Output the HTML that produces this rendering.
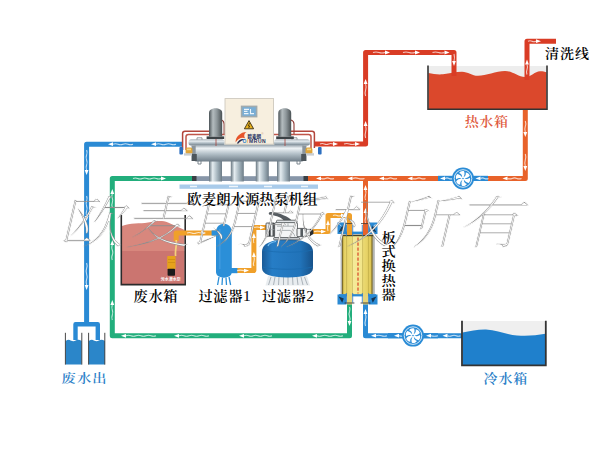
<!DOCTYPE html>
<html lang="zh-CN">
<head>
<meta charset="utf-8">
<title>欧麦朗水源热泵机组</title>
<style>
html,body{margin:0;padding:0;background:#fff;}
body{width:600px;height:450px;overflow:hidden;}
svg{display:block;}
.serif{font-family:"Liberation Serif","Noto Serif CJK SC",serif;}
.sans{font-family:"Liberation Sans","Noto Sans CJK SC",sans-serif;}
.lbl{font-size:14.5px;fill:#000;font-weight:600;}
</style>
</head>
<body>
<svg width="600" height="450" viewBox="0 0 600 450">
<defs>
  <linearGradient id="silverV" x1="0" y1="0" x2="0" y2="1">
    <stop offset="0" stop-color="#8996a0"/>
    <stop offset="0.22" stop-color="#eef3f6"/>
    <stop offset="0.55" stop-color="#b3c0c8"/>
    <stop offset="1" stop-color="#6f7d88"/>
  </linearGradient>
  <linearGradient id="silverH" x1="0" y1="0" x2="1" y2="0">
    <stop offset="0" stop-color="#66757f"/>
    <stop offset="0.28" stop-color="#e4ecf0"/>
    <stop offset="0.65" stop-color="#a3b3bc"/>
    <stop offset="1" stop-color="#6c7b86"/>
  </linearGradient>
  <linearGradient id="darkH" x1="0" y1="0" x2="1" y2="0">
    <stop offset="0" stop-color="#4a5256"/>
    <stop offset="0.3" stop-color="#b4bcbf"/>
    <stop offset="0.6" stop-color="#8e979b"/>
    <stop offset="1" stop-color="#4a5154"/>
  </linearGradient>
  <linearGradient id="f2g" x1="0" y1="0" x2="1" y2="0">
    <stop offset="0" stop-color="#1a5a96"/>
    <stop offset="0.2" stop-color="#267dc6"/>
    <stop offset="0.75" stop-color="#2173b9"/>
    <stop offset="1" stop-color="#17528a"/>
  </linearGradient>
  <linearGradient id="yellowH" x1="0" y1="0" x2="1" y2="0">
    <stop offset="0" stop-color="#e2cc58"/>
    <stop offset="0.3" stop-color="#f5eb9c"/>
    <stop offset="0.7" stop-color="#f2e588"/>
    <stop offset="1" stop-color="#dcc452"/>
  </linearGradient>
  <!-- white flow arrow pointing right, centred on 0,0 -->
  <g id="arw">
    <path d="M-7,0 q1.5,-1.4 3,0 t3,0 t3,0" fill="none" stroke="#fff" stroke-width="0.9"/>
    <path d="M2,-1.9 L7,0 L2,1.9 Z" fill="#fff"/>
  </g>
  <!-- pump icon centred on 0,0 -->
  <g id="pump">
    <circle r="11" fill="#2b8cd6"/>
    <circle r="8.8" fill="none" stroke="#fff" stroke-width="0.8"/>
    <g fill="#fff">
      <path id="bl" d="M-0.9,-1.2 C-0.7,-2.9 -1.6,-4.5 -3.9,-5.4 C-3.0,-7.0 -0.9,-7.9 1.1,-7.2 C1.9,-5.2 1.6,-3.0 0.5,-1.3 Z"/>
      <use href="#bl" transform="rotate(60)"/>
      <use href="#bl" transform="rotate(120)"/>
      <use href="#bl" transform="rotate(180)"/>
      <use href="#bl" transform="rotate(240)"/>
      <use href="#bl" transform="rotate(300)"/>
      <circle r="1.8"/>
    </g>
    <circle r="0.8" fill="#2b8cd6"/>
  </g>
</defs>

<rect width="600" height="450" fill="#fff"/>

<!-- ============ PIPES ============ -->
<g fill="none" stroke-width="5" stroke-linejoin="round">
  <!-- blue: heat pump -> waste out -->
  <path d="M182,144.2 H86.6 V324" stroke="#2a8ad4"/>
  <path d="M75.5,340 V324.2 H97.8 V340" stroke="#2a8ad4" stroke-width="4.4"/>
  <!-- green loop -->
  <path d="M193,178.5 H112.3 V335.8 H349.5 V303" stroke="#22ae7c"/>
  <!-- red: heat pump -> hot tank -->
  <path d="M315,144 H365.6 V52.5 H454 V76" stroke="#d93c25"/>
  <!-- cleaning line -->
  <path d="M527,80 V41.2 H556" stroke="#d93c25"/>
  <!-- orange: hot tank -> pump -> heat pump / exchanger -->
  <path d="M525.3,109 V178.4 H307" stroke="#e8622a"/>
  <path d="M365.5,178 V226" stroke="#e8622a"/>
  <!-- blue cold: tank -> pump -> exchanger -->
  <path d="M462,335.7 H365.5 V303" stroke="#2a8ad4"/>
  <!-- yellow-orange: waste tank -> filter1 -> filter2 -> exchanger -->
  <path d="M231,270.6 H253.9 V227.5 H268" stroke="#f0a02a"/>
  <path d="M312,231.6 H328 V215.5 H349.5 V226" stroke="#f0a02a"/>
</g>
<!-- blue pump connectors -->
<rect x="438" y="175.8" width="50" height="5.2" fill="#2a8ad4"/>
<rect x="388" y="333.1" width="50" height="5.2" fill="#2a8ad4"/>

<!-- ============ HOT WATER TANK ============ -->
<g>
  <rect x="428.5" y="66" width="118" height="43" fill="#ededed"/>
  <path d="M428.5,73 C433,74 438,74.8 443,74.3 C450,73.5 455,71.7 462,71.7 C468,71.7 472,75.8 478,75.8 C486,75.8 496,71 505,71 C513,71 518,77 525,77 C531,77 535,71.2 540,71.2 C543,71.2 545,71.8 546.5,72.2 V109 H428.5 Z" fill="#db482c"/>
  <path d="M428,65.5 V109.2 H547 V65.5" fill="none" stroke="#333" stroke-width="1.6"/>
  <!-- pipe ends dipping into the tank -->
  <rect x="451.5" y="66" width="5" height="10" fill="#d93c25"/>
  <rect x="524.5" y="66" width="5" height="14" fill="#d93c25"/>
</g>

<!-- ============ COLD WATER TANK ============ -->
<g>
  <rect x="462.5" y="321" width="83" height="44" fill="#efefef"/>
  <path d="M462.5,332.5 C470,331 478,329.3 486,329.5 C497,330 506,334.5 517,335.5 C527,336.3 536,335.5 545.5,333.8 V365 H462.5 Z" fill="#1f80cc"/>
  <path d="M462,320.8 V365.3 H545.8 V320.8" fill="none" stroke="#333" stroke-width="1.8"/>
</g>

<!-- ============ WASTE OUT BUCKETS ============ -->
<g>
  <path d="M65.6,341 q3,-2 5,-0.5 q3,1.5 5,0 q3,-1.5 6,0.5 V364.5 H65.6 Z" fill="#2b86c9"/>
  <path d="M88.8,341 q3,-2 5,-0.5 q3,1.5 5,0 q3,-1.5 6,0.5 V364.5 H88.8 Z" fill="#2b86c9"/>
  <path d="M65.4,332.8 V364.6 M81.8,332.8 V364.6 M88.6,332.8 V364.6 M104.8,332.8 V364.6" stroke="#333" stroke-width="0.9" fill="none"/>
</g>

<!-- ============ WASTE WATER TANK ============ -->
<g>
  <path d="M122,226 C130,222.5 140,224 148,222.5 C156,221 162,220 168,222.5 C174,225 180,228 184.5,230 V284 H122 Z" fill="#d8877d"/>
  <rect x="122" y="251" width="62.5" height="33" fill="#cb7570"/>
  <path d="M121.3,215 V284.6 H185.2 V215" fill="none" stroke="#2b2b2b" stroke-width="1.6"/>
  <!-- submersible pump -->
  <path d="M176.2,241 V233 H217" fill="none" stroke="#f0a02a" stroke-width="5" stroke-linejoin="round"/>
  <path d="M176.2,240 C177,246 174.8,250 175.6,256" fill="none" stroke="#f4d27c" stroke-width="1.7"/>
  <rect x="167.2" y="256" width="8.4" height="13" rx="0.8" fill="#e6a21c"/>
  <path d="M168,259.5 H175 M168,262.5 H175" stroke="#c98a12" stroke-width="0.7"/>
  <rect x="167.6" y="268.8" width="7.4" height="7" rx="0.8" fill="#1a1a1a"/>
  <text x="170.8" y="280.6" text-anchor="middle" class="sans" font-size="4" font-weight="700" fill="#fff">污水潜水泵</text>
</g>

<!-- ============ FILTER 1 ============ -->
<g>
  <path d="M219,277 L217.6,285 M222.5,277.5 L222,285 M226,277.5 L226.5,285 M229,277 L230.6,285" stroke="#2b8fd8" stroke-width="1.3" fill="none"/>
  <path d="M216,232 C216,221 231.8,221 231.8,232 V272 C231.8,279.5 216,279.5 216,272 Z" fill="#2b8fd8"/>
  <rect x="211.6" y="230.4" width="6" height="5.2" fill="#2b8fd8"/>
  <rect x="230" y="268" width="7.4" height="5.2" fill="#2b8fd8"/>
  <rect x="219" y="229" width="1.6" height="40" fill="#4fa6e6" opacity="0.5"/>
</g>

<!-- ============ FILTER 2 ============ -->
<g>
  <!-- base fins -->
  <path d="M268,276 L265.5,285.5 H310 L307,276 Z" fill="#e9edf0"/>
  <path d="M271,277 L268.5,285 M275,277 L273.5,285 M279,277 L278.5,285 M283.5,277 V285 M288,277 V285 M292.5,277 L293,285 M297,277 L298,285 M301,277 L303,285 M304.5,277 L307.5,285" stroke="#9aa3ab" stroke-width="0.8" fill="none"/>
  <!-- tank -->
  <path d="M262,252 C262,243 272,239.5 287.5,239.5 C303,239.5 313,243 313,252 V268 C313,274 305,277.5 287.5,277.5 C270,277.5 262,274 262,268 Z" fill="url(#f2g)"/>
  <path d="M262.3,250 C275,253 300,253 312.7,250" stroke="#1a6cb0" stroke-width="0.8" fill="none"/>
  <path d="M262.3,267 C275,270 300,270 312.7,267" stroke="#1a6cb0" stroke-width="0.8" fill="none"/>
  <path d="M268,246 C269,243 272,242 276,241.5" stroke="#7cc0f0" stroke-width="1.2" fill="none"/>
  <!-- valve -->
  <path d="M269.6,212.2 C273,211.4 279,213.2 284,215.4 C287.5,216.8 290,218 291.6,220.6 L284,220.8 C282,218 277,215.6 270,214.8 C268.4,214.6 268.4,212.6 269.6,212.2 Z" fill="#565c61"/>
  <rect x="276.5" y="220.2" width="20.5" height="3" rx="1" fill="#dfe3e6" stroke="#3c4043" stroke-width="0.7"/>
  <rect x="274.5" y="222.6" width="23" height="15.4" rx="1.5" fill="#f4f5f6" stroke="#4a4f53" stroke-width="0.8"/>
  <rect x="266" y="223" width="8.6" height="13.2" rx="0.8" fill="#eceef0" stroke="#3c4043" stroke-width="0.8"/>
  <rect x="268.8" y="223" width="1.8" height="13.2" fill="#2e3235"/>
  <rect x="272.6" y="223" width="1.2" height="13.2" fill="#2e3235"/>
  <path d="M266.4,229.6 H274.4" stroke="#9aa0a5" stroke-width="0.6"/>
  <rect x="297" y="228.4" width="9.6" height="8.2" rx="0.8" fill="#f0f2f3" stroke="#3c4043" stroke-width="0.8"/>
  <rect x="300.4" y="228.4" width="2.6" height="8.2" fill="#555b60"/>
  <rect x="306.4" y="229.2" width="3.8" height="6.6" fill="#f4f5f6" stroke="#4a4f53" stroke-width="0.6"/>
  <path d="M310,228.8 L313.4,230.4 V234 L310,236 Z" fill="#2a2d30"/>
  <path d="M277,226.2 H294 M277,230.4 H290 M283,223.4 V226 M288,223.4 V226" stroke="#8e959a" stroke-width="0.7" fill="none"/>
  <path d="M290,230.4 C292,231.4 294,233.4 295,236.6" stroke="#8e959a" stroke-width="0.7" fill="none"/>
  <rect x="273.6" y="237.6" width="26" height="2.2" rx="0.8" fill="#cfd4d8" stroke="#3c4043" stroke-width="0.7"/>
</g>

<!-- ============ PLATE HEAT EXCHANGER ============ -->
<g>
  <!-- body -->
  <rect x="340.6" y="235" width="34.2" height="59.5" fill="#b4b6b4"/>
  <rect x="342" y="235" width="30.6" height="59.5" fill="#7d6c2a"/>
  <rect x="343.2" y="235" width="28.2" height="59.5" fill="url(#yellowH)"/>
  <rect x="347.2" y="236" width="4.6" height="58" fill="#e6cf5e" opacity="0.55"/>
  <rect x="363.2" y="236" width="4.6" height="58" fill="#e6cf5e" opacity="0.55"/>
  <path d="M346.6,236 V294 M352.4,236 V294 M362.6,236 V294 M368.4,236 V294" stroke="#a8902e" stroke-width="0.7" opacity="0.65" fill="none"/>
  <rect x="341" y="234.6" width="33.5" height="1.6" fill="#4b4424"/>
  <path d="M358,237.5 V293.5" stroke="#d6331f" stroke-width="1.1" stroke-dasharray="3.2 1.8" fill="none"/>
  <!-- top flange -->
  <rect x="337.5" y="222.5" width="9" height="11.5" fill="#2a8ad4"/>
  <rect x="368.5" y="222.5" width="9" height="11.5" fill="#2a8ad4"/>
  <rect x="339" y="231.6" width="37" height="2.4" fill="#2a8ad4"/>
  <rect x="347" y="222" width="5" height="13" fill="#f0a02a"/>
  <rect x="363" y="222" width="5" height="13" fill="#e8622a"/>
  <path d="M346.3,225 V236 M352.7,225 V236 M362.3,225 V236 M368.7,225 V236" stroke="#3b7fc0" stroke-width="0.9"/>
  <path d="M338.6,232.4 l3.6,-7 l1.6,4.4 Z M376.4,232.4 l-3.6,-7 l-1.6,4.4 Z" fill="#17344f"/>
  <path d="M339.5,224.5 l2,1.6 M375.5,224.5 l-2,1.6" stroke="#cfe6f7" stroke-width="0.9"/>
  <path d="M345,223.6 H354 M361,223.6 H370" stroke="#333" stroke-width="0.8"/>
  <!-- bottom flange -->
  <rect x="337.5" y="294.5" width="9" height="10" fill="#2a8ad4"/>
  <rect x="368.5" y="294.5" width="9" height="10" fill="#2a8ad4"/>
  <rect x="339" y="294.2" width="37" height="2.2" fill="#2a8ad4"/>
  <rect x="347" y="294" width="5" height="10.5" fill="#e6d47a"/>
  <rect x="363" y="294" width="5" height="10.5" fill="#e6d47a"/>
  <path d="M346.3,293 V302.6 M352.7,293 V302.6 M362.3,293 V302.6 M368.7,293 V302.6" stroke="#3b7fc0" stroke-width="0.9"/>
  <path d="M338.6,296.4 l3.6,6.4 l1.6,-4.2 Z M376.4,296.4 l-3.6,6.4 l-1.6,-4.2 Z" fill="#17344f"/>
  <path d="M344.6,303 H354.4 M360.6,303 H370.4" stroke="#333" stroke-width="0.9"/>
</g>

<!-- ============ WATER-SOURCE HEAT PUMP UNIT ============ -->
<g>
  <!-- lower light-blue skid -->
  <rect x="179.5" y="184.5" width="138.5" height="4.3" fill="#a9cbea"/>
  <path d="M190,186.6 H197 M229,186.6 H238 M264,186.6 H272 M301,186.6 H308" stroke="#eef5fb" stroke-width="1.5"/>
  <!-- upper dark skid -->
  <rect x="196" y="176.2" width="108" height="4.8" fill="#8796a8"/>
  <rect x="192" y="176" width="4.5" height="5" fill="#3a3f44"/>
  <rect x="303.5" y="176" width="4.5" height="5" fill="#3a3f44"/>
  <!-- four vertical shells -->
  <rect x="209" y="158" width="13" height="23.5" fill="url(#silverH)"/>
  <rect x="230.8" y="158" width="13" height="23.5" fill="url(#silverH)"/>
  <rect x="255.8" y="158" width="13" height="23.5" fill="url(#silverH)"/>
  <rect x="277" y="158" width="13" height="23.5" fill="url(#silverH)"/>
  <!-- copper pipes left -->
  <path d="M212,131.2 H185 Q182.6,131.2 182.6,133.6 V150" fill="none" stroke="#b3463c" stroke-width="1.5"/>
  <path d="M226,134.4 H188.4 Q186,134.4 186,136.8 V150" fill="none" stroke="#c0564a" stroke-width="1.5"/>
  <!-- copper pipes right -->
  <path d="M288,131.2 H312 Q314.4,131.2 314.4,133.6 V148" fill="none" stroke="#b3463c" stroke-width="1.5"/>
  <path d="M274,134.4 H308.6 Q311,134.4 311,136.8 V148" fill="none" stroke="#c0564a" stroke-width="1.5"/>
  <path d="M291,120 q3,1 3,4 V134" fill="none" stroke="#8f3a34" stroke-width="1.1"/>
  <path d="M221.5,120 q2.6,1 2.6,4 V134" fill="none" stroke="#8f3a34" stroke-width="1.1"/>
  <!-- upper small shells -->
  <rect x="188.5" y="139.6" width="36" height="6" rx="2.5" fill="url(#silverV)"/>
  <rect x="274" y="139.6" width="36" height="6" rx="2.5" fill="url(#silverV)"/>
  <path d="M197,139.6 v-1.8 h5 v1.8 M292,139.6 v-1.8 h5 v1.8" fill="none" stroke="#7c858c" stroke-width="0.8"/>
  <!-- main horizontal shell -->
  <rect x="194" y="144.5" width="110" height="17" rx="2" fill="url(#silverV)"/>
  <rect x="191.5" y="145.5" width="4.2" height="15.5" fill="#8b959d"/><rect x="191.8" y="154" width="5" height="7" fill="#4c555b"/>
  <rect x="302.3" y="145.5" width="4.2" height="15.5" fill="#8b959d"/><rect x="301.2" y="154" width="5" height="7" fill="#4c555b"/>
  <path d="M198,161 v3 h3 v-3 M297,161 v3 h3 v-3" fill="none" stroke="#6f7a83" stroke-width="0.9"/>
  <!-- end fittings -->
  <rect x="185.6" y="147.4" width="6.8" height="6.8" rx="2" fill="#dfa53a"/><rect x="187" y="148.6" width="4" height="1.6" fill="#f3d489"/>
  <rect x="305.6" y="147.4" width="6.8" height="6.8" rx="2" fill="#dfa53a"/><rect x="307" y="148.6" width="4" height="1.6" fill="#f3d489"/>
  <rect x="184" y="153.2" width="8" height="2.4" fill="#c9ced2"/>
  <rect x="306" y="153.2" width="8" height="2.4" fill="#c9ced2"/>
  <rect x="179.4" y="147" width="3.6" height="7.4" rx="1" fill="#2c6fc0"/>
  <rect x="318" y="147" width="3.6" height="7.4" rx="1" fill="#2c6fc0"/>
  <!-- compressors -->
  <rect x="206.6" y="136.4" width="17.6" height="2.6" fill="#3c4246"/>
  <rect x="276.2" y="136.4" width="17.6" height="2.6" fill="#3c4246"/>
  <path d="M209,113 C209,106.8 222.2,106.8 222.2,113 V136.6 H209 Z" fill="url(#darkH)"/>
  <path d="M278.3,113 C278.3,106.8 291.2,106.8 291.2,113 V136.6 H278.3 Z" fill="url(#darkH)"/>
  <path d="M216,139 V146 M285,139 V146" stroke="#a8453c" stroke-width="0.8"/>
  <!-- control box -->
  <rect x="225" y="98.6" width="48.6" height="45.6" fill="#f7efdf" stroke="#c9c4b8" stroke-width="0.8"/>
  <rect x="240.8" y="105.6" width="16.6" height="11.8" fill="#a0aaad"/>
  <rect x="242.4" y="107.2" width="13.4" height="8.6" fill="#79aed6"/>
  <path d="M244,109.4 H249 M244,111.4 H247.5 M250.5,109 V113.6 H254 M244,113.6 H248.5" stroke="#eef5fa" stroke-width="1.1" fill="none"/>
  <path d="M249,120.6 L253.6,128.8 H244.4 Z" fill="#e9b21e" stroke="#3a2c10" stroke-width="0.9" stroke-linejoin="round"/>
  <path d="M249.6,123 L248.2,126 H249.8 L248.6,128" stroke="#2a1e08" stroke-width="0.7" fill="none"/>
  <!-- logo -->
  <path d="M235.6,142.6 C235.2,137 240.5,132 246.6,132 C244,133.4 243.6,136.4 245.4,138.6 C242.4,136.6 238,138.4 235.6,142.6 Z" fill="#e6542a"/>
  <path d="M236.8,143.4 C239,139.4 242.6,138 245.6,139.8 C242.8,139.8 240,141.2 238.4,143.6 Z" fill="#2a2f52"/>
  <text x="247.4" y="138.2" class="sans" font-size="4.6" font-weight="700" fill="#23305e">欧麦朗</text>
  <text x="261.6" y="134.6" class="sans" font-size="2.6" fill="#c9876a">®</text>
  <text x="242.6" y="143.4" class="sans" font-size="5" font-weight="700" fill="#23305e" letter-spacing="0.55"><tspan fill="#2d7fc8">O</tspan><tspan fill="#f08a2a">/</tspan>MRUN</text>
</g>

<!-- ============ FLOW ARROWS ============ -->
<g>
<g transform="translate(108.0,144.2) rotate(180)"><g transform="translate(-5,0)"><path d="M-20.0,0 q2.50,-1.0 5.00,0 t5.00,0 t5.00,0 t5.00,0" fill="none" stroke="#fff" stroke-width="1.1" stroke-opacity="0.72"/></g><path d="M-5,-1.9 L0,0 L-5,1.9 Z" fill="#fff"/></g>
<g transform="translate(151.0,144.2) rotate(180)"><g transform="translate(-5,0)"><path d="M-20.0,0 q2.50,-1.0 5.00,0 t5.00,0 t5.00,0 t5.00,0" fill="none" stroke="#fff" stroke-width="1.1" stroke-opacity="0.72"/></g><path d="M-5,-1.9 L0,0 L-5,1.9 Z" fill="#fff"/></g>
<g transform="translate(86.6,175.0) rotate(90)"><g transform="translate(-5,0)"><path d="M-20.0,0 q2.50,-1.0 5.00,0 t5.00,0 t5.00,0 t5.00,0" fill="none" stroke="#fff" stroke-width="1.1" stroke-opacity="0.72"/></g><path d="M-5,-1.9 L0,0 L-5,1.9 Z" fill="#fff"/></g>
<g transform="translate(86.6,221.0) rotate(90)"><g transform="translate(-5,0)"><path d="M-20.0,0 q2.50,-1.0 5.00,0 t5.00,0 t5.00,0 t5.00,0" fill="none" stroke="#fff" stroke-width="1.1" stroke-opacity="0.72"/></g><path d="M-5,-1.9 L0,0 L-5,1.9 Z" fill="#fff"/></g>
<g transform="translate(86.6,290.0) rotate(90)"><g transform="translate(-5,0)"><path d="M-22.0,0 q2.75,-1.0 5.50,0 t5.50,0 t5.50,0 t5.50,0" fill="none" stroke="#fff" stroke-width="1.1" stroke-opacity="0.72"/></g><path d="M-5,-1.9 L0,0 L-5,1.9 Z" fill="#fff"/></g>
<g transform="translate(166.0,178.5) rotate(0)"><g transform="translate(-5,0)"><path d="M-28.0,0 q2.33,-1.0 4.67,0 t4.67,0 t4.67,0 t4.67,0 t4.67,0 t4.67,0" fill="none" stroke="#fff" stroke-width="1.1" stroke-opacity="0.72"/></g><path d="M-5,-1.9 L0,0 L-5,1.9 Z" fill="#fff"/></g>
<g transform="translate(112.3,189.0) rotate(270)"><g transform="translate(-5,0)"><path d="M-13.0,0 q2.17,-1.0 4.33,0 t4.33,0 t4.33,0" fill="none" stroke="#fff" stroke-width="1.1" stroke-opacity="0.72"/></g><path d="M-5,-1.9 L0,0 L-5,1.9 Z" fill="#fff"/></g>
<g transform="translate(112.3,240.0) rotate(270)"><g transform="translate(-5,0)"><path d="M-15.0,0 q2.50,-1.0 5.00,0 t5.00,0 t5.00,0" fill="none" stroke="#fff" stroke-width="1.1" stroke-opacity="0.72"/></g><path d="M-5,-1.9 L0,0 L-5,1.9 Z" fill="#fff"/></g>
<g transform="translate(112.3,300.0) rotate(270)"><g transform="translate(-5,0)"><path d="M-15.0,0 q2.50,-1.0 5.00,0 t5.00,0 t5.00,0" fill="none" stroke="#fff" stroke-width="1.1" stroke-opacity="0.72"/></g><path d="M-5,-1.9 L0,0 L-5,1.9 Z" fill="#fff"/></g>
<g transform="translate(121.0,335.8) rotate(180)"><g transform="translate(-5,0)"><path d="M-30.0,0 q2.50,-1.0 5.00,0 t5.00,0 t5.00,0 t5.00,0 t5.00,0 t5.00,0" fill="none" stroke="#fff" stroke-width="1.1" stroke-opacity="0.72"/></g><path d="M-5,-1.9 L0,0 L-5,1.9 Z" fill="#fff"/></g>
<g transform="translate(174.0,335.8) rotate(180)"><g transform="translate(-5,0)"><path d="M-30.0,0 q2.50,-1.0 5.00,0 t5.00,0 t5.00,0 t5.00,0 t5.00,0 t5.00,0" fill="none" stroke="#fff" stroke-width="1.1" stroke-opacity="0.72"/></g><path d="M-5,-1.9 L0,0 L-5,1.9 Z" fill="#fff"/></g>
<g transform="translate(239.0,335.8) rotate(180)"><g transform="translate(-5,0)"><path d="M-28.0,0 q2.33,-1.0 4.67,0 t4.67,0 t4.67,0 t4.67,0 t4.67,0 t4.67,0" fill="none" stroke="#fff" stroke-width="1.1" stroke-opacity="0.72"/></g><path d="M-5,-1.9 L0,0 L-5,1.9 Z" fill="#fff"/></g>
<g transform="translate(312.0,335.8) rotate(180)"><g transform="translate(-5,0)"><path d="M-26.0,0 q2.60,-1.0 5.20,0 t5.20,0 t5.20,0 t5.20,0 t5.20,0" fill="none" stroke="#fff" stroke-width="1.1" stroke-opacity="0.72"/></g><path d="M-5,-1.9 L0,0 L-5,1.9 Z" fill="#fff"/></g>
<g transform="translate(349.5,326.0) rotate(90)"><g transform="translate(-5,0)"><path d="M-14.0,0 q2.33,-1.0 4.67,0 t4.67,0 t4.67,0" fill="none" stroke="#fff" stroke-width="1.1" stroke-opacity="0.72"/></g><path d="M-5,-1.9 L0,0 L-5,1.9 Z" fill="#fff"/></g>
<g transform="translate(338.0,144.0) rotate(0)"><g transform="translate(-5,0)"><path d="M-13.0,0 q2.17,-1.0 4.33,0 t4.33,0 t4.33,0" fill="none" stroke="#fff" stroke-width="1.1" stroke-opacity="0.72"/></g><path d="M-5,-1.9 L0,0 L-5,1.9 Z" fill="#fff"/></g>
<g transform="translate(360.0,144.0) rotate(0)"><g transform="translate(-5,0)"><path d="M-11.0,0 q2.75,-1.0 5.50,0 t5.50,0" fill="none" stroke="#fff" stroke-width="1.1" stroke-opacity="0.72"/></g><path d="M-5,-1.9 L0,0 L-5,1.9 Z" fill="#fff"/></g>
<g transform="translate(365.6,121.0) rotate(270)"><g transform="translate(-5,0)"><path d="M-12.0,0 q3.00,-1.0 6.00,0 t6.00,0" fill="none" stroke="#fff" stroke-width="1.1" stroke-opacity="0.72"/></g><path d="M-5,-1.9 L0,0 L-5,1.9 Z" fill="#fff"/></g>
<g transform="translate(365.6,79.0) rotate(270)"><g transform="translate(-5,0)"><path d="M-12.0,0 q3.00,-1.0 6.00,0 t6.00,0" fill="none" stroke="#fff" stroke-width="1.1" stroke-opacity="0.72"/></g><path d="M-5,-1.9 L0,0 L-5,1.9 Z" fill="#fff"/></g>
<g transform="translate(390.0,52.5) rotate(0)"><g transform="translate(-5,0)"><path d="M-12.0,0 q3.00,-1.0 6.00,0 t6.00,0" fill="none" stroke="#fff" stroke-width="1.1" stroke-opacity="0.72"/></g><path d="M-5,-1.9 L0,0 L-5,1.9 Z" fill="#fff"/></g>
<g transform="translate(420.0,52.5) rotate(0)"><g transform="translate(-5,0)"><path d="M-12.0,0 q3.00,-1.0 6.00,0 t6.00,0" fill="none" stroke="#fff" stroke-width="1.1" stroke-opacity="0.72"/></g><path d="M-5,-1.9 L0,0 L-5,1.9 Z" fill="#fff"/></g>
<g transform="translate(449.5,52.5) rotate(0)"><g transform="translate(-5,0)"><path d="M-12.0,0 q3.00,-1.0 6.00,0 t6.00,0" fill="none" stroke="#fff" stroke-width="1.1" stroke-opacity="0.72"/></g><path d="M-5,-1.9 L0,0 L-5,1.9 Z" fill="#fff"/></g>
<g transform="translate(454.0,66.0) rotate(90)"><g transform="translate(-5,0)"><path d="M-7.0,0 q3.50,-1.0 7.00,0" fill="none" stroke="#fff" stroke-width="1.1" stroke-opacity="0.72"/></g><path d="M-5,-1.9 L0,0 L-5,1.9 Z" fill="#fff"/></g>
<g transform="translate(527.0,59.5) rotate(270)"><g transform="translate(-5,0)"><path d="M-10.0,0 q2.50,-1.0 5.00,0 t5.00,0" fill="none" stroke="#fff" stroke-width="1.1" stroke-opacity="0.72"/></g><path d="M-5,-1.9 L0,0 L-5,1.9 Z" fill="#fff"/></g>
<g transform="translate(541.0,41.2) rotate(0)"><g transform="translate(-5,0)"><path d="M-8.0,0 q2.00,-1.0 4.00,0 t4.00,0" fill="none" stroke="#fff" stroke-width="1.1" stroke-opacity="0.72"/></g><path d="M-5,-1.9 L0,0 L-5,1.9 Z" fill="#fff"/></g>
<g transform="translate(525.3,137.0) rotate(90)"><g transform="translate(-5,0)"><path d="M-11.0,0 q2.75,-1.0 5.50,0 t5.50,0" fill="none" stroke="#fff" stroke-width="1.1" stroke-opacity="0.72"/></g><path d="M-5,-1.9 L0,0 L-5,1.9 Z" fill="#fff"/></g>
<g transform="translate(525.3,171.0) rotate(90)"><g transform="translate(-5,0)"><path d="M-12.0,0 q3.00,-1.0 6.00,0 t6.00,0" fill="none" stroke="#fff" stroke-width="1.1" stroke-opacity="0.72"/></g><path d="M-5,-1.9 L0,0 L-5,1.9 Z" fill="#fff"/></g>
<g transform="translate(502.5,178.4) rotate(180)"><g transform="translate(-5,0)"><path d="M-14.0,0 q2.33,-1.0 4.67,0 t4.67,0 t4.67,0" fill="none" stroke="#fff" stroke-width="1.1" stroke-opacity="0.72"/></g><path d="M-5,-1.9 L0,0 L-5,1.9 Z" fill="#fff"/></g>
<g transform="translate(475.5,178.4) rotate(180)"><g transform="translate(-5,0)"><path d="M-8.0,0 q2.00,-1.0 4.00,0 t4.00,0" fill="none" stroke="#fff" stroke-width="1.1" stroke-opacity="0.72"/></g><path d="M-5,-1.9 L0,0 L-5,1.9 Z" fill="#fff"/></g>
<g transform="translate(440.0,178.4) rotate(180)"><g transform="translate(-5,0)"><path d="M-8.0,0 q2.00,-1.0 4.00,0 t4.00,0" fill="none" stroke="#fff" stroke-width="1.1" stroke-opacity="0.72"/></g><path d="M-5,-1.9 L0,0 L-5,1.9 Z" fill="#fff"/></g>
<g transform="translate(407.5,178.4) rotate(180)"><g transform="translate(-5,0)"><path d="M-13.0,0 q2.17,-1.0 4.33,0 t4.33,0 t4.33,0" fill="none" stroke="#fff" stroke-width="1.1" stroke-opacity="0.72"/></g><path d="M-5,-1.9 L0,0 L-5,1.9 Z" fill="#fff"/></g>
<g transform="translate(379.0,178.4) rotate(180)"><g transform="translate(-5,0)"><path d="M-13.0,0 q2.17,-1.0 4.33,0 t4.33,0 t4.33,0" fill="none" stroke="#fff" stroke-width="1.1" stroke-opacity="0.72"/></g><path d="M-5,-1.9 L0,0 L-5,1.9 Z" fill="#fff"/></g>
<g transform="translate(347.5,178.4) rotate(180)"><g transform="translate(-5,0)"><path d="M-12.0,0 q3.00,-1.0 6.00,0 t6.00,0" fill="none" stroke="#fff" stroke-width="1.1" stroke-opacity="0.72"/></g><path d="M-5,-1.9 L0,0 L-5,1.9 Z" fill="#fff"/></g>
<g transform="translate(316.0,178.4) rotate(180)"><g transform="translate(-5,0)"><path d="M-13.0,0 q2.17,-1.0 4.33,0 t4.33,0 t4.33,0" fill="none" stroke="#fff" stroke-width="1.1" stroke-opacity="0.72"/></g><path d="M-5,-1.9 L0,0 L-5,1.9 Z" fill="#fff"/></g>
<g transform="translate(365.5,185.0) rotate(270)"><g transform="translate(-5,0)"><path d="M-10.0,0 q2.50,-1.0 5.00,0 t5.00,0" fill="none" stroke="#fff" stroke-width="1.1" stroke-opacity="0.72"/></g><path d="M-5,-1.9 L0,0 L-5,1.9 Z" fill="#fff"/></g>
<g transform="translate(365.5,208.0) rotate(270)"><g transform="translate(-5,0)"><path d="M-10.0,0 q2.50,-1.0 5.00,0 t5.00,0" fill="none" stroke="#fff" stroke-width="1.1" stroke-opacity="0.72"/></g><path d="M-5,-1.9 L0,0 L-5,1.9 Z" fill="#fff"/></g>
<g transform="translate(442.5,335.7) rotate(180)"><g transform="translate(-5,0)"><path d="M-13.0,0 q2.17,-1.0 4.33,0 t4.33,0 t4.33,0" fill="none" stroke="#fff" stroke-width="1.1" stroke-opacity="0.72"/></g><path d="M-5,-1.9 L0,0 L-5,1.9 Z" fill="#fff"/></g>
<g transform="translate(426.0,335.7) rotate(180)"><g transform="translate(-5,0)"><path d="M-7.0,0 q3.50,-1.0 7.00,0" fill="none" stroke="#fff" stroke-width="1.1" stroke-opacity="0.72"/></g><path d="M-5,-1.9 L0,0 L-5,1.9 Z" fill="#fff"/></g>
<g transform="translate(394.0,335.7) rotate(180)"><g transform="translate(-5,0)"><path d="M-7.0,0 q3.50,-1.0 7.00,0" fill="none" stroke="#fff" stroke-width="1.1" stroke-opacity="0.72"/></g><path d="M-5,-1.9 L0,0 L-5,1.9 Z" fill="#fff"/></g>
<g transform="translate(371.0,335.7) rotate(180)"><g transform="translate(-5,0)"><path d="M-11.0,0 q2.75,-1.0 5.50,0 t5.50,0" fill="none" stroke="#fff" stroke-width="1.1" stroke-opacity="0.72"/></g><path d="M-5,-1.9 L0,0 L-5,1.9 Z" fill="#fff"/></g>
<g transform="translate(365.5,309.0) rotate(270)"><g transform="translate(-5,0)"><path d="M-12.0,0 q3.00,-1.0 6.00,0 t6.00,0" fill="none" stroke="#fff" stroke-width="1.1" stroke-opacity="0.72"/></g><path d="M-5,-1.9 L0,0 L-5,1.9 Z" fill="#fff"/></g>
<g transform="translate(206.0,233.0) rotate(0)"><g transform="translate(-5,0)"><path d="M-14.0,0 q2.33,-1.0 4.67,0 t4.67,0 t4.67,0" fill="none" stroke="#fff" stroke-width="1.1" stroke-opacity="0.72"/></g><path d="M-5,-1.9 L0,0 L-5,1.9 Z" fill="#fff"/></g>
<g transform="translate(249.0,270.6) rotate(0)"><g transform="translate(-5,0)"><path d="M-7.0,0 q3.50,-1.0 7.00,0" fill="none" stroke="#fff" stroke-width="1.1" stroke-opacity="0.72"/></g><path d="M-5,-1.9 L0,0 L-5,1.9 Z" fill="#fff"/></g>
<g transform="translate(253.9,252.0) rotate(270)"><g transform="translate(-5,0)"><path d="M-9.0,0 q2.25,-1.0 4.50,0 t4.50,0" fill="none" stroke="#fff" stroke-width="1.1" stroke-opacity="0.72"/></g><path d="M-5,-1.9 L0,0 L-5,1.9 Z" fill="#fff"/></g>
<g transform="translate(253.9,233.0) rotate(270)"><g transform="translate(-5,0)"><path d="M-5.0,0 q2.50,-1.0 5.00,0" fill="none" stroke="#fff" stroke-width="1.1" stroke-opacity="0.72"/></g><path d="M-5,-1.9 L0,0 L-5,1.9 Z" fill="#fff"/></g>
<g transform="translate(265.0,227.5) rotate(0)"><g transform="translate(-5,0)"><path d="M-6.0,0 q3.00,-1.0 6.00,0" fill="none" stroke="#fff" stroke-width="1.1" stroke-opacity="0.72"/></g><path d="M-5,-1.9 L0,0 L-5,1.9 Z" fill="#fff"/></g>
<g transform="translate(326.0,231.6) rotate(0)"><g transform="translate(-5,0)"><path d="M-7.0,0 q3.50,-1.0 7.00,0" fill="none" stroke="#fff" stroke-width="1.1" stroke-opacity="0.72"/></g><path d="M-5,-1.9 L0,0 L-5,1.9 Z" fill="#fff"/></g>
<g transform="translate(328.0,220.0) rotate(270)"><g transform="translate(-5,0)"><path d="M-6.0,0 q3.00,-1.0 6.00,0" fill="none" stroke="#fff" stroke-width="1.1" stroke-opacity="0.72"/></g><path d="M-5,-1.9 L0,0 L-5,1.9 Z" fill="#fff"/></g>
<g transform="translate(346.0,215.5) rotate(0)"><g transform="translate(-5,0)"><path d="M-8.0,0 q2.00,-1.0 4.00,0 t4.00,0" fill="none" stroke="#fff" stroke-width="1.1" stroke-opacity="0.72"/></g><path d="M-5,-1.9 L0,0 L-5,1.9 Z" fill="#fff"/></g>
</g>

<!-- ============ PUMPS ============ -->
<use href="#pump" transform="translate(463,178.5)"/>
<use href="#pump" transform="translate(413,335.6)"/>

<!-- ============ WATERMARK ============ -->
<mask id="wmOut" maskUnits="userSpaceOnUse" x="40" y="170" width="540" height="100">
  <g transform="translate(0,243) skewX(-13)">
    <text x="58" y="0" class="serif" font-size="57" font-weight="200" fill="#fff" stroke="#000" stroke-width="0.9" textLength="465" lengthAdjust="spacingAndGlyphs">欧麦朗版权所有</text>
  </g>
</mask>
<mask id="wmIn" maskUnits="userSpaceOnUse" x="40" y="170" width="540" height="100">
  <g transform="translate(0,243) skewX(-13)">
    <text x="58" y="0" class="serif" font-size="57" font-weight="200" fill="#fff" stroke="#000" stroke-width="1.8" textLength="465" lengthAdjust="spacingAndGlyphs">欧麦朗版权所有</text>
  </g>
</mask>
<rect x="40" y="170" width="540" height="100" fill="#8e8e8e" mask="url(#wmOut)"/>
<rect x="40" y="170" width="540" height="100" fill="#fff" mask="url(#wmIn)"/>

<!-- ============ LABELS ============ -->
<g>
  <text transform="translate(486.35,125.70) scale(1.08,1)" x="0.31" y="0" text-anchor="middle" class="serif" font-size="13.0" font-weight="600" fill="#e05a40" letter-spacing="0.61">热水箱</text>
  <text transform="translate(567.00,57.80) scale(1.08,1)" x="0.44" y="0" text-anchor="middle" class="serif" font-size="13.0" font-weight="600" fill="#000" letter-spacing="0.89">清洗线</text>
  <text transform="translate(505.40,383.40) scale(1.08,1)" x="0.40" y="0" text-anchor="middle" class="serif" font-size="13.0" font-weight="600" fill="#2b80c8" letter-spacing="0.80">冷水箱</text>
  <text transform="translate(84.00,383.10) scale(1.15,1)" x="0.53" y="0" text-anchor="middle" class="serif" font-size="12.4" font-weight="600" fill="#2b80c8" letter-spacing="1.05">废水出</text>
  <text transform="translate(155.50,301.20) scale(1.06,1)" x="0.28" y="0" text-anchor="middle" class="serif" font-size="13.4" font-weight="600" fill="#000" letter-spacing="0.56">废水箱</text>
  <text transform="translate(224.60,301.20) scale(1.06,1)" x="0.28" y="0" text-anchor="middle" class="serif" font-size="13.4" font-weight="600" fill="#000" letter-spacing="0.56">过滤器<tspan font-weight="400" font-size="14.5">1</tspan></text>
  <text transform="translate(287.90,301.20) scale(1.06,1)" x="0.28" y="0" text-anchor="middle" class="serif" font-size="13.4" font-weight="600" fill="#000" letter-spacing="0.56">过滤器<tspan font-weight="400" font-size="14.5">2</tspan></text>
  <!-- label (vertical) -->
  <g class="serif" text-anchor="middle" font-size="12.7" font-weight="600" fill="#000" transform="translate(388.7,0) scale(1.12,1)">
    <text x="0" y="242">板</text>
    <text x="0" y="256.2">式</text>
    <text x="0" y="270.4">换</text>
    <text x="0" y="284.6">热</text>
    <text x="0" y="298.8">器</text>
  </g>
  <!-- title -->
  <text transform="translate(252.30,204.00) scale(1.03,1)" x="0.03" y="0" text-anchor="middle" class="serif" font-size="14.0" font-weight="600" fill="#000" letter-spacing="0.06">欧麦朗水源热泵机组</text>
</g>

</svg>
</body>
</html>
